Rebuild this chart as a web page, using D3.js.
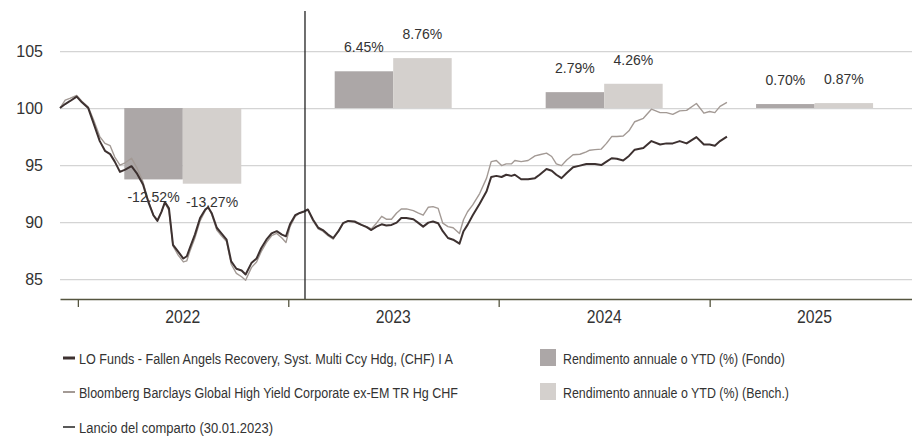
<!DOCTYPE html>
<html>
<head>
<meta charset="utf-8">
<script src="https://cdn.jsdelivr.net/npm/d3@7"></script>
<style>
  html, body { margin: 0; padding: 0; background: #fff; }
  svg { display: block; }
  .reg { font-family: "Liberation Sans", Arial, Helvetica, sans-serif; }
</style>
</head>
<body>
<script>
// values
var dates = ["2021-12-01","2021-12-10","2021-12-18","2021-12-30","2022-01-08","2022-01-19","2022-01-28",
  "2022-02-08","2022-02-17","2022-02-26","2022-03-06","2022-03-15","2022-03-24","2022-04-04","2022-04-13",
  "2022-04-24","2022-05-03","2022-05-12","2022-05-19","2022-05-26","2022-06-01","2022-06-08","2022-06-15",
  "2022-06-24","2022-07-03","2022-07-09","2022-07-14","2022-07-23","2022-08-01","2022-08-10","2022-08-15",
  "2022-08-21","2022-08-30","2022-09-07","2022-09-16","2022-09-24","2022-10-03","2022-10-12","2022-10-19",
  "2022-10-29","2022-11-07","2022-11-15","2022-11-24","2022-12-03","2022-12-12","2022-12-21","2022-12-28",
  "2023-01-04","2023-01-13","2023-01-21","2023-01-27","2023-02-04","2023-02-13","2023-02-22","2023-03-02",
  "2023-03-11","2023-03-20","2023-03-29","2023-04-06","2023-04-15","2023-04-26","2023-05-08","2023-05-17",
  "2023-05-25","2023-06-03","2023-06-12","2023-06-20","2023-06-29","2023-07-08","2023-07-16","2023-07-25",
  "2023-08-06","2023-08-14","2023-08-23","2023-09-01","2023-09-09","2023-09-18","2023-09-26","2023-10-05",
  "2023-10-14","2023-10-25","2023-11-01","2023-11-08","2023-11-17","2023-11-29","2023-12-11","2023-12-19",
  "2023-12-28","2024-01-06","2024-01-14","2024-01-23","2024-01-29","2024-02-09","2024-02-21","2024-03-04",
  "2024-03-12","2024-03-24","2024-04-02","2024-04-10","2024-04-19","2024-04-28","2024-05-09","2024-05-21",
  "2024-06-01","2024-06-07","2024-06-16","2024-06-27","2024-07-06","2024-07-15","2024-07-24","2024-08-04",
  "2024-08-14","2024-08-24","2024-09-08","2024-09-22","2024-10-07","2024-10-18","2024-10-29","2024-11-10",
  "2024-11-22","2024-12-09","2024-12-22","2025-01-01","2025-01-10","2025-01-19","2025-01-31"];

var fund = [100.0,100.35,100.6,101.0,100.5,100.0,98.7,
  97.1,96.25,95.96,95.3,94.4,94.6,94.9,94.3,
  93.3,91.8,90.6,90.1,90.9,91.75,91.2,88.0,
  87.4,86.8,87.0,87.7,88.9,90.35,91.1,91.3,
  90.8,89.5,89.0,88.45,86.55,85.9,85.75,85.4,
  86.4,86.8,87.7,88.45,89.0,89.2,88.9,88.75,
  89.8,90.6,90.8,90.9,91.1,90.2,89.5,89.3,
  88.9,88.6,89.2,89.9,90.1,90.05,89.75,89.55,
  89.3,89.6,89.8,89.7,89.75,89.95,90.35,90.35,
  90.25,89.95,89.6,89.95,90.05,89.9,89.2,88.6,
  88.45,88.1,89.2,89.75,90.6,91.6,92.7,93.95,
  94.05,93.95,94.15,94.05,94.15,93.75,93.75,93.85,
  94.15,94.65,94.5,94.15,93.85,94.3,94.8,94.95,
  95.1,95.1,95.1,95.0,95.3,95.6,95.55,95.4,
  95.8,96.35,96.5,97.1,96.8,96.9,96.9,97.1,
  96.9,97.45,96.8,96.8,96.7,97.1,97.5];

var bench = [100.0,100.7,100.85,101.1,100.6,100.1,99.0,
  97.5,96.9,96.7,95.7,95.0,95.2,95.6,94.8,
  93.5,91.9,90.6,90.2,90.9,91.7,91.0,87.9,
  87.1,86.5,86.6,87.4,88.6,90.1,91.0,91.3,
  90.7,89.3,88.8,88.3,86.3,85.5,85.2,84.9,
  86.0,86.5,87.4,88.2,88.8,89.0,88.6,88.2,
  89.6,90.5,90.8,90.9,91.1,90.1,89.4,89.2,
  88.8,88.5,89.2,89.9,90.1,90.0,89.75,89.6,
  89.4,89.9,90.5,90.25,90.25,90.8,91.15,91.15,
  91.0,90.8,90.6,91.3,91.35,91.2,89.9,89.6,
  89.5,89.0,90.2,90.9,91.5,92.5,93.85,95.3,
  95.4,94.95,95.1,95.1,95.4,95.3,95.4,95.8,
  95.9,96.05,95.75,95.1,94.95,95.45,95.9,95.95,
  96.15,96.3,96.35,96.4,96.9,97.5,97.5,97.55,
  98.0,98.8,99.1,99.9,99.6,99.6,99.45,99.75,
  99.8,100.4,99.55,99.7,99.6,100.15,100.5];

var years = ["2022", "2023", "2024", "2025"];
var barFund = [-12.52, 6.45, 2.79, 0.70];
var barBench = [-13.27, 8.76, 4.26, 0.87];
var yTicks = [85, 90, 95, 100, 105];
var launchDate = "2023-01-30";

// the reference uses a condensed face; we squeeze Liberation Sans to the measured widths
var legendLines = [
  {label: "LO Funds - Fallen Angels Recovery, Syst. Multi Ccy Hdg, (CHF) I A", color: "#3d3130", w: 3, len: 374},
  {label: "Bloomberg Barclays Global High Yield Corporate ex-EM TR Hg CHF", color: "#a39a95", w: 2, len: 379},
  {label: "Lancio del comparto (30.01.2023)", color: "#222", w: 1.5, len: 194}
];
var legendBoxes = [
  {label: "Rendimento annuale o YTD (%) (Fondo)", color: "#aca7a7", len: 222},
  {label: "Rendimento annuale o YTD (%) (Bench.)", color: "#d4d0cd", len: 226}
];

var W = 912, H = 437;
var parse = d3.timeParse("%Y-%m-%d");

var svg = d3.select("body").append("svg").attr("width", W).attr("height", H);

var x = d3.scaleTime()
  .domain([parse("2021-12-01"), parse("2025-12-18")])
  .range([60, 912]);
var y = d3.scaleLinear().domain([83.25, 107]).range([299, 28.25]);
// bars: 1% of yearly return = half a point of the index axis
var yBar = d3.scaleLinear().domain([0, 10]).range([y(100), y(105)]);

// grid
svg.append("g")
  .attr("transform", "translate(60,0)")
  .call(d3.axisLeft(y).tickValues(yTicks).tickSize(-(912 - 60)).tickFormat(""))
  .call(function (g) {
    g.select(".domain").remove();
    g.selectAll("line").attr("stroke", "#d4d4d4").attr("stroke-width", 1.2);
  });

// y labels
svg.append("g")
  .attr("transform", "translate(43,0)")
  .call(d3.axisLeft(y).tickValues(yTicks).tickSize(0).tickPadding(0))
  .call(function (g) {
    g.select(".domain").remove();
    g.selectAll("text").attr("class", "reg").attr("font-size", 16).attr("fill", "#333");
  });

// bars
var bw = 58.5;
var barData = years.map(function (yr, i) {
  return {year: yr, mid: x(parse(yr + "-07-02")), fund: barFund[i], bench: barBench[i]};
});
var bars = [];
barData.forEach(function (d) {
  bars.push({cx: d.mid - bw / 2, v: d.fund, color: legendBoxes[0].color});
  bars.push({cx: d.mid + bw / 2, v: d.bench, color: legendBoxes[1].color});
});
svg.append("g").selectAll("rect").data(bars).join("rect")
  .attr("x", function (d) { return d.cx - bw / 2; })
  .attr("width", bw)
  .attr("y", function (d) { return Math.min(yBar(d.v), yBar(0)); })
  .attr("height", function (d) { return Math.abs(yBar(d.v) - yBar(0)); })
  .attr("fill", function (d) { return d.color; });

// lines
var line = d3.line()
  .x(function (d) { return x(d.date); })
  .y(function (d) { return y(d.v); });
var benchPts = dates.map(function (s, i) { return {date: parse(s), v: bench[i]}; });
var fundPts = dates.map(function (s, i) { return {date: parse(s), v: fund[i]}; });

svg.append("path").datum(benchPts).attr("d", line)
  .attr("fill", "none").attr("stroke", "#a39a95").attr("stroke-width", 1.4).attr("stroke-linejoin", "round");
svg.append("path").datum(fundPts).attr("d", line)
  .attr("fill", "none").attr("stroke", "#3d3130").attr("stroke-width", 2).attr("stroke-linejoin", "round");

// launch line
svg.append("line")
  .attr("x1", x(parse(launchDate))).attr("x2", x(parse(launchDate)))
  .attr("y1", 11).attr("y2", 299)
  .attr("stroke", "#222").attr("stroke-width", 1.3);

// bar labels
svg.append("g").selectAll("text").data(bars).join("text")
  .attr("class", "reg")
  .attr("x", function (d) { return d.cx; })
  .attr("y", function (d) { return d.v >= 0 ? yBar(d.v) - 19 : yBar(d.v) + 23; })
  .attr("text-anchor", "middle")
  .attr("font-size", 14)
  .attr("fill", "#333")
  .text(function (d) { return d.v.toFixed(2) + "%"; });

// x axis
var yearStarts = years.map(function (yr) { return parse(yr + "-01-01"); });
svg.append("g")
  .attr("transform", "translate(0,299)")
  .call(d3.axisBottom(x).tickValues(yearStarts).tickSize(8).tickSizeOuter(0).tickFormat(""))
  .call(function (g) {
    g.select(".domain").attr("stroke", "#55553f").attr("stroke-width", 1.5);
    g.selectAll(".tick line").attr("stroke", "#55553f").attr("stroke-width", 1.3);
  });

svg.append("g").selectAll("text").data(barData).join("text")
  .attr("class", "reg")
  .attr("x", function (d) { return d.mid - 17.5; })
  .attr("y", 323)
  .attr("font-size", 18.5)
  .attr("fill", "#333")
  .attr("textLength", 35)
  .attr("lengthAdjust", "spacingAndGlyphs")
  .text(function (d) { return d.year; });

// legend
var legRowsY = [358, 392, 427];
legendLines.forEach(function (d, i) {
  svg.append("line")
    .attr("x1", 63).attr("x2", 75).attr("y1", legRowsY[i]).attr("y2", legRowsY[i])
    .attr("stroke", d.color).attr("stroke-width", d.w);
  svg.append("text").attr("class", "reg")
    .attr("x", 79).attr("y", legRowsY[i] + 5.5)
    .attr("font-size", 15.5).attr("fill", "#333")
    .attr("textLength", d.len).attr("lengthAdjust", "spacingAndGlyphs")
    .text(d.label);
});
legendBoxes.forEach(function (d, i) {
  svg.append("rect")
    .attr("x", 540).attr("y", legRowsY[i] - 9).attr("width", 16).attr("height", 17)
    .attr("fill", d.color);
  svg.append("text").attr("class", "reg")
    .attr("x", 563).attr("y", legRowsY[i] + 5.5)
    .attr("font-size", 15.5).attr("fill", "#333")
    .attr("textLength", d.len).attr("lengthAdjust", "spacingAndGlyphs")
    .text(d.label);
});
</script>
</body>
</html>
